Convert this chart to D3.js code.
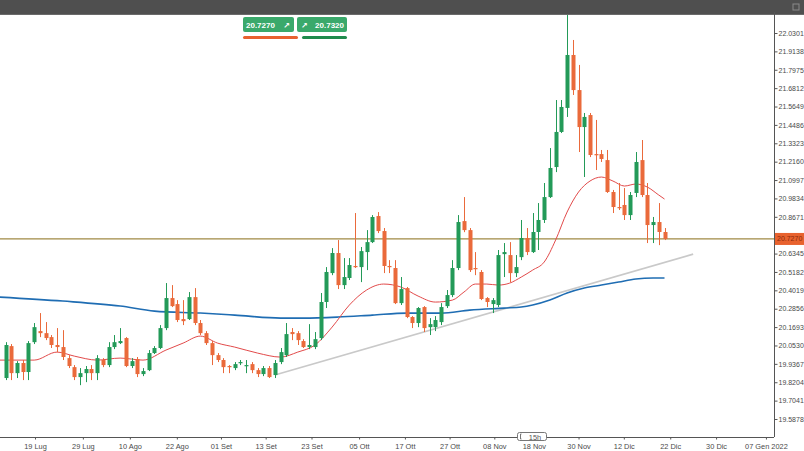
<!DOCTYPE html>
<html><head><meta charset="utf-8">
<script src="https://cdn.jsdelivr.net/npm/d3@7"></script>
<style>
html,body{margin:0;padding:0;background:#fff;}
svg{display:block;font-family:"Liberation Sans",Arial,sans-serif;}
</style></head>
<body><svg id="c" width="804" height="451"></svg>
<script>
// ---- data (bar index 0..115, daily USD/MXN-like) ----
const open = [19.847,20.049,19.878,19.942,19.885,20.074,20.144,20.131,20.106,20.056,20.043,19.973,19.916,19.853,19.878,19.904,19.878,19.961,19.929,20.043,20.068,20.100,19.923,19.967,19.872,19.897,20.005,20.037,20.163,20.353,20.315,20.220,20.220,20.359,20.195,20.131,20.068,19.992,19.961,19.923,19.910,19.942,19.923,19.935,19.897,19.872,19.910,19.866,19.948,19.992,20.138,20.131,20.081,20.043,20.043,20.100,20.328,20.511,20.638,20.435,20.480,20.556,20.549,20.644,20.707,20.872,20.777,20.556,20.543,20.321,20.416,20.233,20.195,20.296,20.169,20.169,20.201,20.302,20.372,20.543,20.840,20.783,20.543,20.518,20.353,20.315,20.309,20.631,20.625,20.511,20.612,20.733,20.644,20.771,20.847,20.992,21.182,21.404,21.556,21.891,21.669,21.435,21.511,21.264,21.264,21.226,21.024,20.929,20.942,20.878,21.018,21.226,21.005,20.815,20.834,20.771];
const high = [20.074,20.062,19.954,19.961,20.081,20.195,20.258,20.201,20.119,20.163,20.150,19.992,19.929,19.910,19.923,19.929,19.992,19.973,20.074,20.119,20.163,20.106,19.973,19.980,19.910,20.024,20.049,20.182,20.448,20.435,20.340,20.340,20.391,20.416,20.214,20.144,20.081,20.005,19.973,19.929,19.948,19.961,19.961,19.948,19.910,19.923,19.923,19.961,20.037,20.195,20.163,20.144,20.093,20.188,20.138,20.385,20.549,20.669,20.720,20.606,20.606,20.891,20.676,20.783,20.878,20.897,20.796,20.593,20.593,20.486,20.423,20.239,20.296,20.302,20.226,20.239,20.321,20.404,20.593,20.878,20.992,20.796,20.644,20.530,20.359,20.353,20.657,20.701,20.707,20.625,20.847,20.796,20.891,20.954,21.081,21.302,21.606,21.606,22.160,21.986,21.828,21.524,21.524,21.480,21.290,21.290,21.037,21.081,21.049,21.024,21.277,21.353,21.081,20.866,20.954,20.796];
const low = [19.834,19.834,19.847,19.834,19.834,20.062,20.106,20.087,20.037,20.011,19.961,19.910,19.834,19.802,19.821,19.834,19.834,19.916,19.916,20.030,20.062,19.916,19.910,19.853,19.859,19.891,19.999,20.030,20.150,20.296,20.201,20.182,20.214,20.182,20.119,20.056,19.929,19.948,19.878,19.878,19.897,19.929,19.878,19.878,19.853,19.859,19.847,19.847,19.935,19.980,20.087,20.056,20.037,20.030,20.030,20.087,20.290,20.498,20.410,20.410,20.467,20.543,20.454,20.530,20.701,20.764,20.511,20.511,20.315,20.309,20.226,20.163,20.169,20.138,20.119,20.144,20.182,20.290,20.359,20.530,20.770,20.518,20.498,20.340,20.296,20.258,20.296,20.486,20.454,20.486,20.593,20.625,20.638,20.657,20.828,20.986,21.150,21.397,21.499,21.638,21.277,21.119,21.245,21.163,21.214,21.018,20.891,20.910,20.847,20.847,20.992,20.992,20.701,20.701,20.688,20.720];
const close = [20.056,19.878,19.942,19.885,20.068,20.169,20.131,20.100,20.056,20.043,19.980,19.923,19.853,19.878,19.904,19.878,19.973,19.929,20.043,20.074,20.081,19.923,19.954,19.872,19.891,20.005,20.037,20.163,20.353,20.302,20.214,20.207,20.359,20.195,20.131,20.068,19.992,19.961,19.916,19.916,19.935,19.948,19.929,19.897,19.872,19.910,19.853,19.942,20.011,20.125,20.125,20.087,20.043,20.056,20.093,20.328,20.518,20.638,20.435,20.486,20.562,20.549,20.650,20.707,20.866,20.777,20.556,20.549,20.321,20.410,20.233,20.195,20.290,20.163,20.188,20.214,20.296,20.372,20.543,20.834,20.783,20.530,20.537,20.347,20.328,20.340,20.625,20.644,20.511,20.549,20.733,20.644,20.771,20.847,20.992,21.176,21.404,21.562,21.891,21.669,21.435,21.499,21.258,21.258,21.233,21.024,20.929,20.923,20.878,21.005,21.214,21.005,20.815,20.834,20.771,20.727];

// moving averages (bar index, value)
const maFastIdx = [-1,5,9,12,16,20,24,28,31,34,37,40,44,48,51,54,57,60,63,66,69,72,75,78,80,82,84,86,88,90,92,94,96,98,100,102,104,106,108,110,112,114,115];
const maFastVal = [19.9605,19.9605,20.0112,19.9858,19.9605,19.9732,19.9605,20.0238,20.0681,20.1124,20.0681,20.0428,20.0048,19.9795,20.0112,20.0555,20.1694,20.3086,20.4036,20.4416,20.4226,20.3656,20.3276,20.3403,20.3909,20.4416,20.4416,20.4352,20.4479,20.4858,20.5301,20.5808,20.7200,20.8972,21.0238,21.0935,21.1187,21.0935,21.0618,21.0745,21.0555,21.0048,20.9795];
const maSlowIdx = [-1,10,20,26,34,40,48,52,58,64,70,76,81,87,90,92,95,98,101,104,107,110,113,115];
const maSlowVal = [20.3593,20.3340,20.3023,20.2706,20.2580,20.2453,20.2263,20.2263,20.2327,20.2453,20.2580,20.2580,20.2769,20.2896,20.2960,20.3086,20.3403,20.3846,20.4162,20.4352,20.4542,20.4732,20.4795,20.4795];
const trendIdx = [47,120];
const trendVal = [19.866,20.631];

const bidPrice = 20.7270;
const askPrice = 20.7320;

const yTicks = [22.0301,21.9138,21.7975,21.6812,21.5649,21.4486,21.3323,21.2160,21.0997,20.9834,20.8671,20.7508,20.6345,20.5182,20.4019,20.2856,20.1693,20.0530,19.9367,19.8204,19.7041,19.5878];
const xLabels = ["19 Lug","29 Lug","10 Ago","22 Ago","01 Set","13 Set","23 Set","05 Ott","17 Ott","27 Ott","08 Nov","18 Nov","30 Nov","12 Dic","22 Dic","30 Dic","07 Gen 2022"];
const xLabelIdx = [5.15,13.5,21.7,29.9,37.6,45.4,53.4,61.7,69.7,77.5,85.3,92.2,100.0,107.9,116.0,124.0,132.7];

// ---- layout ----
const W = 804, H = 451;
const plotL = 0, plotR = 774, plotT = 15, plotB = 437;
const GREEN = "#239a58", ORANGE = "#ea6a3b";

const svg = d3.select("#c");
const x = d3.scaleLinear().domain([0, 115]).range([5.5, 664.5]);
const y = d3.scaleLinear().domain([22.0301, 19.5878]).range([33, 419]);

svg.append("rect").attr("width", W).attr("height", H).attr("fill", "#fff");

svg.append("defs").append("clipPath").attr("id", "plot")
  .append("rect").attr("x", plotL).attr("y", plotT).attr("width", plotR - plotL).attr("height", plotB - plotT);

const g = svg.append("g").attr("clip-path", "url(#plot)");

// price line
g.append("line").attr("x1", plotL).attr("x2", plotR)
  .attr("y1", y(bidPrice)).attr("y2", y(bidPrice))
  .attr("stroke", "#a08a45").attr("stroke-width", 1.3);

// trend line
g.append("line")
  .attr("x1", x(trendIdx[0])).attr("y1", y(trendVal[0]))
  .attr("x2", x(trendIdx[1])).attr("y2", y(trendVal[1]))
  .attr("stroke", "#c9c9c9").attr("stroke-width", 1.6);

// slow MA
const slow = maSlowIdx.map((d, i) => [d, maSlowVal[i]]);
g.append("path").datum(slow)
  .attr("d", d3.line().x(d => x(d[0])).y(d => y(d[1])).curve(d3.curveMonotoneX))
  .attr("fill", "none").attr("stroke", "#1f6db3").attr("stroke-width", 1.6);

// fast MA
const fast = maFastIdx.map((d, i) => [d, maFastVal[i]]);
g.append("path").datum(fast)
  .attr("d", d3.line().x(d => x(d[0])).y(d => y(d[1])).curve(d3.curveMonotoneX))
  .attr("fill", "none").attr("stroke", "#e24a4a").attr("stroke-width", 1);

// candles
const bars = open.map((o, i) => ({i, o, h: high[i], l: low[i], c: close[i]}));
const cg = g.selectAll("g.cd").data(bars).enter().append("g").attr("class", "cd");
cg.append("line")
  .attr("x1", d => Math.round(x(d.i)) + 0.5).attr("x2", d => Math.round(x(d.i)) + 0.5)
  .attr("y1", d => y(d.h)).attr("y2", d => y(d.l))
  .attr("stroke", d => d.c >= d.o ? GREEN : ORANGE).attr("stroke-width", 1);
cg.append("rect")
  .attr("x", d => Math.round(x(d.i)) - 1.5).attr("width", 4)
  .attr("y", d => y(Math.max(d.o, d.c)))
  .attr("height", d => Math.max(1.2, Math.abs(y(d.o) - y(d.c))))
  .attr("fill", d => d.c >= d.o ? GREEN : ORANGE);

// top bar
svg.append("rect").attr("x", 0).attr("y", 0).attr("width", W).attr("height", 15).attr("fill", "#4f4f4f");
svg.append("rect").attr("x", 0).attr("y", 14).attr("width", W).attr("height", 1).attr("fill", "#6a6a6a");
svg.append("rect").attr("x", 793).attr("y", 4).attr("width", 6).attr("height", 6)
  .attr("fill", "none").attr("stroke", "#8a8a8a").attr("stroke-width", 1);

// axes lines
svg.append("line").attr("x1", plotR + 0.5).attr("x2", plotR + 0.5).attr("y1", 12).attr("y2", plotB)
  .attr("stroke", "#555").attr("stroke-width", 1);
svg.append("line").attr("x1", 0).attr("x2", plotR).attr("y1", plotB + 0.5).attr("y2", plotB + 0.5)
  .attr("stroke", "#555").attr("stroke-width", 1);

// y axis (label hidden behind bid tag is left blank)
const yAxis = d3.axisRight(y).tickValues(yTicks).tickSize(3).tickPadding(1)
  .tickFormat(d => Math.abs(d - bidPrice) < 0.04 ? "" : d3.format(".4f")(d));
const ya = svg.append("g").attr("transform", `translate(${plotR + 0.5},0)`).call(yAxis);
ya.select(".domain").remove();
ya.selectAll("line").attr("stroke", "#555");
ya.selectAll("text").attr("fill", "#4a4a4a").style("font-size", "7px");

// x axis
const xAxis = d3.axisBottom(x).tickValues(xLabelIdx).tickSize(2).tickPadding(4)
  .tickFormat((d, i) => xLabels[i]);
const xa = svg.append("g").attr("transform", `translate(0,${plotB + 0.5})`).call(xAxis);
xa.select(".domain").remove();
xa.selectAll("line").attr("stroke", "#555");
xa.selectAll("text").attr("fill", "#4a4a4a").style("font-size", "7.4px");

// bid price tag
svg.append("rect").attr("x", plotR + 1).attr("y", y(bidPrice) - 6).attr("width", W - plotR - 1).attr("height", 12)
  .attr("fill", "#e8622e");
svg.append("text").attr("x", plotR + 3).attr("y", y(bidPrice) + 2.5)
  .attr("fill", "#8a2a0a").style("font-size", "7px").text(bidPrice.toFixed(4));

// 15h countdown box
const cx = 532;
svg.append("rect").attr("x", 517.5).attr("y", 432.5).attr("width", 29).attr("height", 8).attr("rx", 2)
  .attr("fill", "#fff").attr("stroke", "#777");
svg.append("path").attr("d", "M521.5,434 L520.5,434 L520.5,439 L521.5,439").attr("fill", "none").attr("stroke", "#777");
svg.append("text").attr("x", cx + 3).attr("y", 439.5).attr("text-anchor", "middle")
  .attr("fill", "#555").style("font-size", "7.4px").text("15h");

// top bid/ask boxes
const boxes = [
  {x: 243, w: 51, label: bidPrice.toFixed(4), arrowRight: true},
  {x: 297, w: 50, label: askPrice.toFixed(4), arrowRight: false}
];
boxes.forEach(b => {
  svg.append("rect").attr("x", b.x).attr("y", 17).attr("width", b.w).attr("height", 15).attr("rx", 2).attr("fill", "#3aa96b");
  const t = svg.append("text").attr("y", 28).attr("fill", "#fff").style("font-size", "8px").style("font-weight", "bold");
  if (b.arrowRight) {
    t.attr("x", b.x + 3).text(b.label);
    svg.append("text").attr("x", b.x + b.w - 4).attr("y", 28).attr("text-anchor", "end").attr("fill", "#fff")
      .style("font-size", "8px").style("font-weight", "bold").style("font-family", "DejaVu Sans").text("\u2197");
  } else {
    t.attr("x", b.x + b.w - 3).attr("text-anchor", "end").text(b.label);
    svg.append("text").attr("x", b.x + 4).attr("y", 28).attr("fill", "#fff")
      .style("font-size", "8px").style("font-weight", "bold").style("font-family", "DejaVu Sans").text("\u2197");
  }
});
svg.append("rect").attr("x", 243).attr("y", 36).attr("width", 55).attr("height", 3).attr("rx", 1.5).attr("fill", "#e8612f");
svg.append("rect").attr("x", 302).attr("y", 36).attr("width", 45).attr("height", 3).attr("rx", 1.5).attr("fill", "#1f8a4c");
</script></body></html>
